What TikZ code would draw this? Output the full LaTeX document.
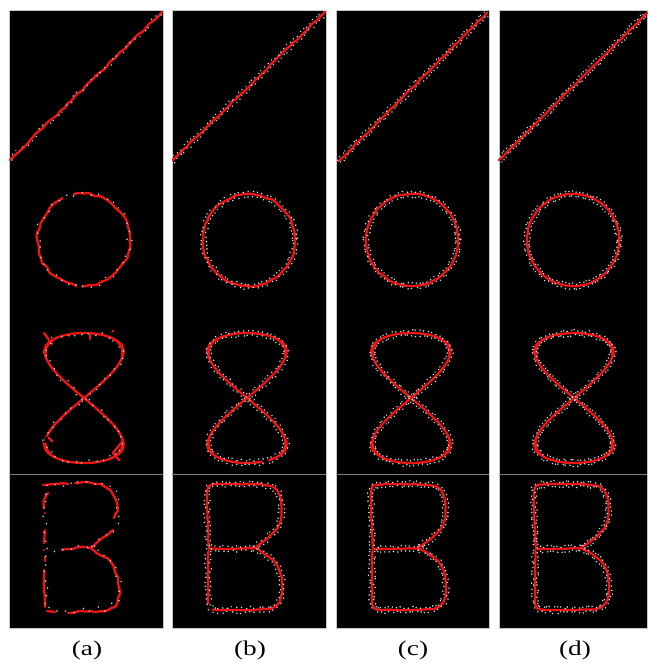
\documentclass[tikz,border=0pt]{standalone}
\usepackage{fontspec}
\setmainfont{Liberation Serif}
\usetikzlibrary{decorations.pathmorphing,decorations.markings}
\definecolor{curvered}{RGB}{240,20,20}
\definecolor{dotc}{RGB}{220,220,220}
\definecolor{sepgray}{RGB}{125,125,125}
\tikzset{
  panel/.style={fill=black, draw=gray!45, line width=0.5pt},
  sepline/.style={draw=sepgray, line width=0.8pt},
  redc/.style={draw=curvered, line width=2.3pt, line cap=round, line join=round},
  jitter/.style n args={2}{decorate, decoration={random steps, segment length=#1, amplitude=#2}, rounded corners=1pt},
  noisedots/.style n args={2}{postaction={decorate}, decoration={markings, mark=between positions 0 and 1 step #1 with {\fill[dotc] ({rand*1.5pt},{rand*#2}) circle (0.85pt);}}},
  twodots/.style={postaction={decorate}, decoration={markings, mark=between positions 0 and 1 step #1 with {\fill[dotc] ({rand*1.2pt},{2.4pt+rand*1.1pt}) circle (0.85pt); \fill[dotc] ({rand*1.2pt},{-2.4pt-rand*1.1pt}) circle (0.85pt);}}},
  gapc/.style={draw=black, line width=5pt},
  lbl/.style={font=\fontsize{21}{25}\selectfont, text=black, xscale=1.3}
}
\newcommand\eightp{plot[domain=0:360, samples=145, variable=\tt] ({75+39*sin(2*\tt)}, {398-65*sin(\tt)})}
\newcommand\Bup{(37,549) -- (36,530) -- (35,510) -- (35,492) -- (36,487) -- (39,485) -- (50,484) -- (65,484) -- (80,484) -- (92,485) -- (99,486) -- (104,489) -- (107,494) -- (109,500) -- (109.5,507) -- (109.5,515) -- (108.5,521) -- (106,527) -- (102,532) -- (96,538) -- (89,543) -- (82,548) -- (70,548.5) -- (55,549) -- (38,549)}
\newcommand\Blow{(82,548) -- (90,552) -- (97,557) -- (102,561) -- (106,567) -- (109,575) -- (110,584) -- (110,593) -- (108,601) -- (104,606) -- (98,609) -- (88,609.5) -- (75,610) -- (60,610) -- (45,610) -- (39,609) -- (36.5,605) -- (36,595) -- (36,580) -- (36,565) -- (36.5,551)}
\newcommand\panelbase[1]{\path[panel] (0,10) rectangle (#1,628); \draw[sepline] (0,474) -- (#1,474);}
\newcommand\allred[1]{%
  \draw[redc, jitter={4pt}{#1}] \eightp;
  \draw[redc, jitter={4pt}{#1}] \Bup;
  \draw[redc, jitter={4pt}{#1}] \Blow;}
\newcommand\alldots[1]{%
  \path[twodots=#1] \eightp;
  \path[twodots=#1] \Bup;
  \path[twodots=#1] \Blow;}
\begin{document}
\begin{tikzpicture}[x=1pt,y=-1pt]
\pgfmathsetseed{11}
\useasboundingbox (0,0) rectangle (649,664);
% ---------- panel (a)
\begin{scope}[shift={(9,0)}]
  \panelbase{154}
  \draw[redc, jitter={5pt}{1.1pt}] (1,160) -- (153,12);
  \draw[redc, jitter={6pt}{1.4pt}] (74.5,240) circle[radius=46];
  \draw[redc, jitter={5pt}{1.2pt}] \eightp;
  % gaps
  \draw[gapc] (54,197) -- (64,195);
  \draw[gapc, line width=4pt] (68,286) -- (73,286);
  \draw[gapc, line width=4pt] (36,362) -- (37,367);
  \draw[gapc, line width=4pt] (39,437) -- (37,443);
  % spurs
  \draw[redc] (43,344) -- (35,333);
  \draw[redc] (40,438) -- (43,441);
  \draw[redc] (104,453) -- (110,460);
  \draw[redc] (104,453) -- (112,443);
  \draw[redc] (81,333) -- (81,339);
  \fill[curvered] (104,331) circle (1.5);
  % B in pieces
  \draw[redc, jitter={4pt}{0.8pt}] (34,485) -- (47,484) -- (59,484);
  \draw[redc, jitter={4pt}{0.8pt}] (66,483) -- (74,482) -- (91,484) -- (101,490) -- (107,500) -- (109,510) -- (105,518);
  \draw[redc, jitter={4pt}{0.8pt}] (104,530) -- (91,540) -- (81,548);
  \draw[redc, jitter={4pt}{0.8pt}] (53,550) -- (63,549) -- (71,547) -- (81,548);
  \draw[redc, jitter={4pt}{0.8pt}] (81,548) -- (91,555) -- (98,558) -- (104,565) -- (109,577) -- (111,593) -- (107,606) -- (96,611) -- (86,612) -- (71,611) -- (59,613);
  \draw[redc] (38,611) -- (46,612);
  \draw[redc, jitter={4pt}{0.6pt}] (39,493) -- (35,500) -- (35,508);
  \fill[curvered] (36,513) circle (1.2);
  \draw[redc] (36,530) -- (35,543);
  \fill[curvered] (35,550) circle (1.2);
  \draw[redc] (36,557) -- (36,561);
  \draw[redc, jitter={4pt}{0.6pt}] (35,570) -- (35,590) -- (36,607);
  % noise
  \path[noisedots={6pt}{2.8pt}] (1,160) -- (153,12);
  \path[noisedots={8pt}{2.8pt}] (74.5,240) circle[radius=46];
  \path[noisedots={7pt}{2.8pt}] \eightp;
  \path[noisedots={8pt}{2.8pt}] \Bup;
  \path[noisedots={8pt}{2.8pt}] \Blow;
\end{scope}
% ---------- panel (b)
\begin{scope}[shift={(172,0)}]
  \panelbase{154}
  \draw[redc, jitter={4pt}{0.8pt}] (1,160) -- (153,12);
  \draw[redc, jitter={4pt}{0.8pt}] (77,240) circle[radius=46];
  \allred{0.8pt}
  \draw[gapc, line width=4pt] (91,460) -- (96,461);
  \draw[gapc, line width=4pt] (37,604) -- (40,609);
  \path[twodots=4.5pt] (1,160) -- (153,12);
  \path[twodots=4.5pt] (77,240) circle[radius=46];
  \alldots{4.5pt}
\end{scope}
% ---------- panel (c)
\begin{scope}[shift={(336,0)}]
  \panelbase{153}
  \draw[redc, jitter={4pt}{0.5pt}] (3,161) -- (151,13);
  \draw[redc, jitter={4pt}{0.5pt}] (76,240) circle[radius=46];
  \allred{0.5pt}
  \path[twodots=4pt] (3,161) -- (151,13);
  \path[twodots=4pt] (76,240) circle[radius=46];
  \alldots{4pt}
\end{scope}
% ---------- panel (d)
\begin{scope}[shift={(499,0)}]
  \panelbase{148}
  \draw[redc, jitter={4pt}{0.3pt}] (0,160) -- (148,13);
  \draw[redc, jitter={4pt}{0.3pt}] (74,240) circle[radius=46];
  \allred{0.3pt}
  \path[twodots=3.6pt] (0,160) -- (148,13);
  \path[twodots=3.6pt] (74,240) circle[radius=46];
  \alldots{3.6pt}
\end{scope}
% ---------- labels
\node[lbl] (la) at (87,650) {(a)};
\node[lbl] (lb) at (250,650) {(b)};
\node[lbl] (lc) at (413,650) {(c)};
\node[lbl] (ld) at (575,650) {(d)};
\end{tikzpicture}
\end{document}
